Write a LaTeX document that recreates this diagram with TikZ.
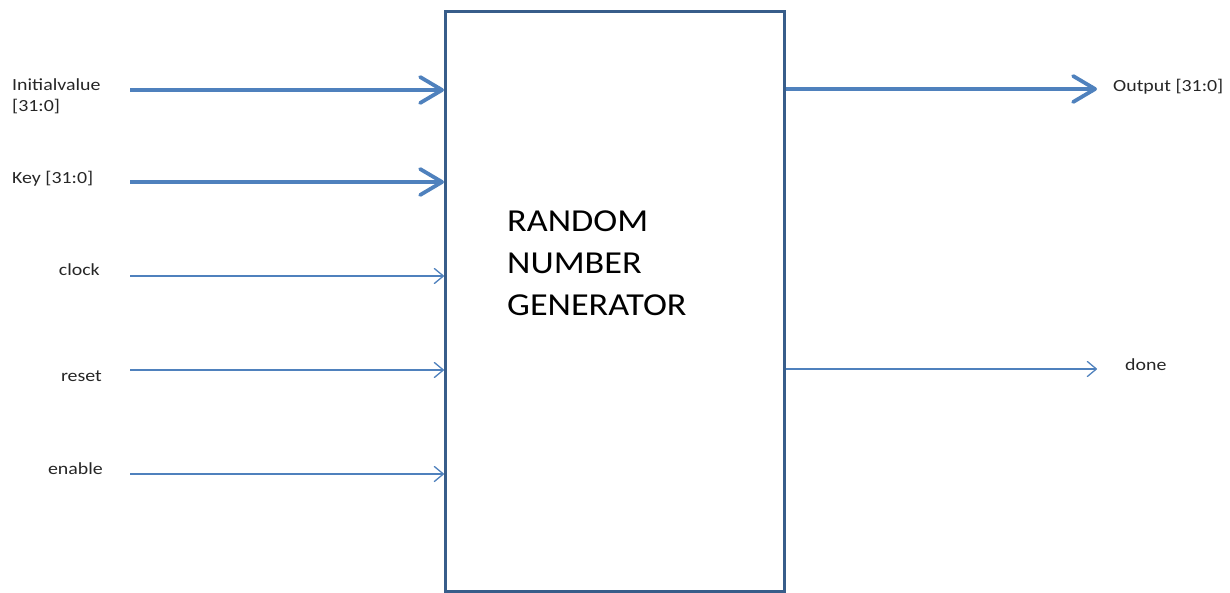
\documentclass[tikz,border=0pt]{standalone}
\usepackage{fontspec}
\setmainfont{Carlito}
\newfontfamily\lblfont[FakeStretch=1.17]{Carlito}
\newfontfamily\titlefont[FakeStretch=1.13]{Carlito}
\usetikzlibrary{arrows.meta}
\definecolor{wire}{HTML}{4F81BD}
\definecolor{frame}{HTML}{385D8A}
\definecolor{ink}{HTML}{262626}
\tikzset{
  bus/.style={draw=wire, line width=4.5pt, -{Straight Barb[length=22pt,width=26pt,line width=3.8pt,round]}},
  sig/.style={draw=wire, line width=1.5pt, -{Straight Barb[length=9pt,width=15pt,line width=1.3pt,round]}},
  lbl/.style={font=\lblfont\fontsize{17}{20}\selectfont, text=ink, inner sep=0pt},
  block/.style={draw=frame, line width=3pt, fill=white, inner sep=0pt}
}
\begin{document}
\begin{tikzpicture}[x=1pt, y=-1pt]
\useasboundingbox (0,0) rectangle (1230,593);
% main block
\node[block, minimum width=339pt, minimum height=580pt, anchor=north west] (rng) at (444,10) {};
\node[font=\titlefont\fontsize{32}{41.5}\selectfont, align=left, anchor=base west, inner sep=0pt] (title) at (507,315)
  {RANDOM\\NUMBER\\GENERATOR};
% input labels
\node[lbl, anchor=base west, align=left] (iv) at (12,91) {Initialvalue};
\node[lbl, anchor=base west] (ivb) at (12,112) {[31:0]};
\node[lbl, anchor=base west] (key) at (12,184) {Key [31:0]};
\node[lbl, anchor=base east] (clk) at (100,276) {clock};
\node[lbl, anchor=base east] (rst) at (102,381) {reset};
\node[lbl, anchor=base east] (en) at (103,474) {enable};
% output labels
\node[lbl, anchor=base west] (out) at (1113,92) {Output [31:0]};
\node[lbl, anchor=base west] (done) at (1125,370) {done};
% wire end points
\coordinate (civ) at (130,90);
\coordinate (ckey) at (130,182);
\coordinate (cclk) at (130,276);
\coordinate (crst) at (130,370);
\coordinate (cen) at (130,474);
\coordinate (cout) at (1097,89);
\coordinate (cdone) at (1097,369);
% connectors
\draw[bus] (civ) -- (civ -| rng.west);
\draw[bus] (ckey) -- (ckey -| rng.west);
\draw[sig] (cclk) -- (cclk -| rng.west);
\draw[sig] (crst) -- (crst -| rng.west);
\draw[sig] (cen) -- (cen -| rng.west);
\draw[bus] (cout -| rng.east) -- (cout);
\draw[sig] (cdone -| rng.east) -- (cdone);
\end{tikzpicture}
\end{document}
